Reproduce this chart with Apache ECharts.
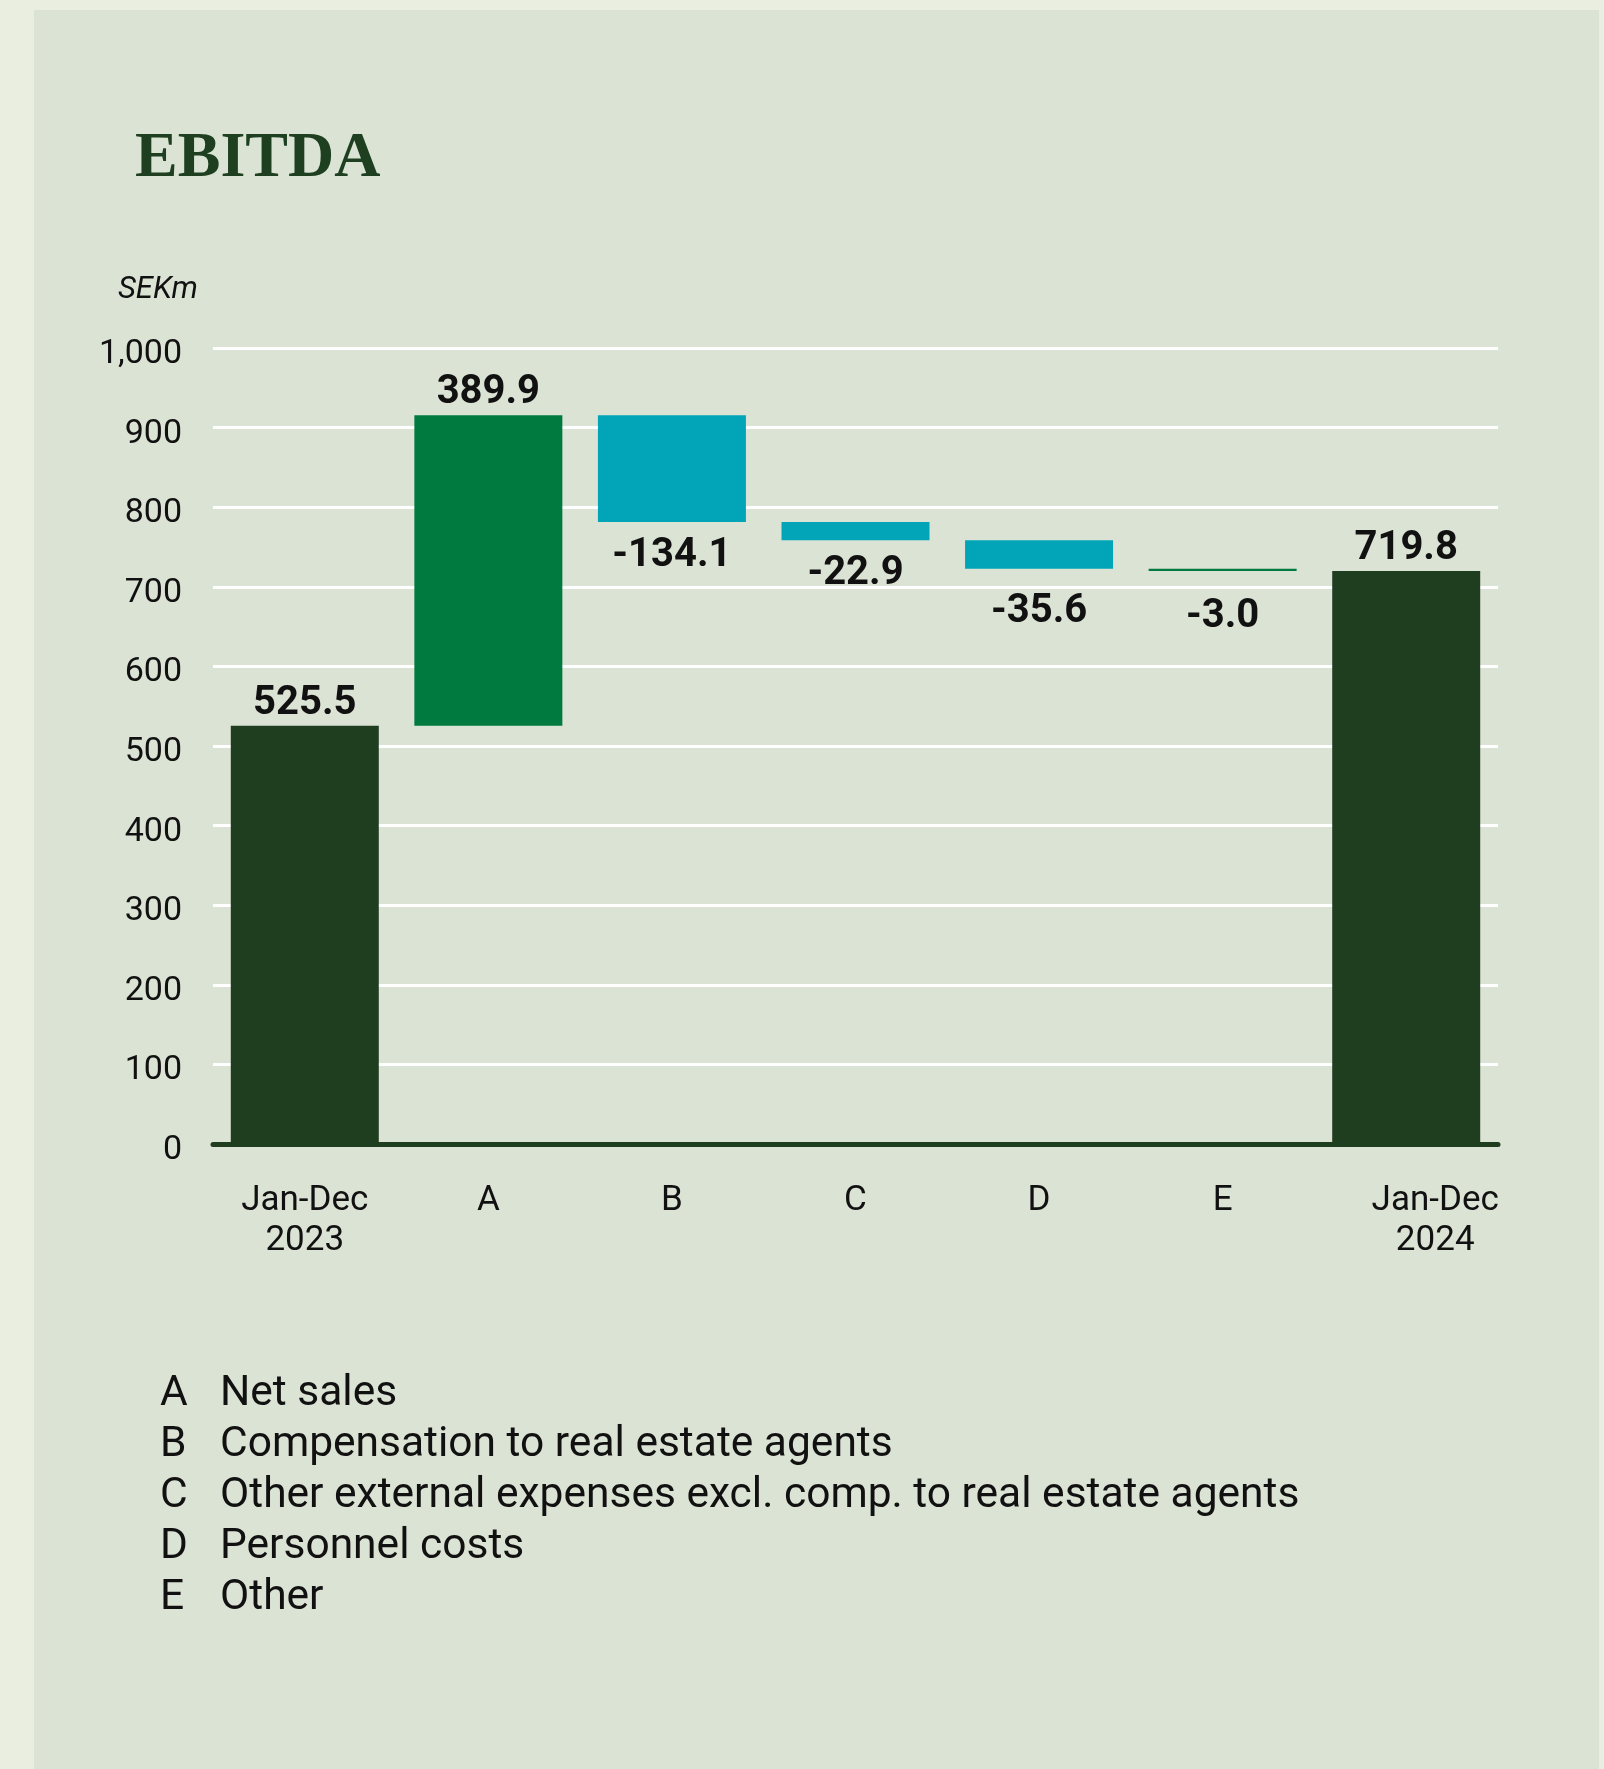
<!DOCTYPE html>
<html>
<head>
<meta charset="utf-8">
<script src="https://cdn.jsdelivr.net/npm/echarts@6/dist/echarts.min.js"></script>
<style>
html,body{margin:0;padding:0;background:#e9eee1;}
#chart{width:1604px;height:1769px;}
</style>
</head>
<body>
<div id="chart"></div>
<script>
// ---- data ----
const categories = ['Jan-Dec\n2023', 'A', 'B', 'C', 'D', 'E', 'Jan-Dec\n2024'];
const startValue = 525.5;
const changes = [389.9, -134.1, -22.9, -35.6, -3.0];
const endValue = 719.8;
const yTicks = [0, 100, 200, 300, 400, 500, 600, 700, 800, 900, 1000];
const legendLetters = ['A', 'B', 'C', 'D', 'E'];
const legendTexts = [
  'Net sales',
  'Compensation to real estate agents',
  'Other external expenses excl. comp. to real estate agents',
  'Personnel costs',
  'Other'
];

// ---- build waterfall ----
const C_TOTAL = '#1f3d1f', C_POS = '#007a3e', C_NEG = '#02a5b7';
const negDistances = [14, 14, 23, 26]; // label offsets for negative bars B..E
const baseData = [0];
const barData = [];
barData.push({value: startValue, itemStyle: {color: C_TOTAL}, label: {position: 'top'}, lbl: startValue});
let running = startValue;
let negIdx = 0;
changes.forEach((c) => {
  const lo = c >= 0 ? running : running + c;
  baseData.push(lo);
  barData.push({
    value: Math.abs(c),
    lbl: c,
    itemStyle: {color: (c >= 0 || Math.abs(c) < 5) ? C_POS : C_NEG},
    label: c >= 0 ? {position: 'top'} : {position: 'bottom', distance: negDistances[negIdx++]}
  });
  running += c;
});
baseData.push(0);
barData.push({value: endValue, itemStyle: {color: C_TOTAL}, label: {position: 'top'}, lbl: endValue});

const fmt = v => (v < 0 ? '-' : '') + Math.abs(v).toFixed(1);

const catData = categories.map((c, i) => i === categories.length - 1
  ? {value: c, textStyle: {padding: [0, 0, 0, 58]}} : c);

const chart = echarts.init(document.getElementById('chart'), null, {renderer: 'canvas'});
const legendGraphics = legendLetters.map((l, i) => ({
  type: 'text', left: 160, top: 1373 + i * 51,
  style: {
    text: '{l|' + l + '}{t|' + legendTexts[i] + '}',
    rich: {
      l: {fontSize: 42.5, fontFamily: 'Roboto', fill: '#111', width: 60},
      t: {fontSize: 42.5, fontFamily: 'Roboto', fill: '#111'}
    }
  }
}));

chart.setOption({
  animation: false,
  backgroundColor: 'transparent',
  grid: {left: 213, right: 106, top: 348, bottom: 625, containLabel: false},
  graphic: [
    {type: 'rect', left: 34, top: 10, z: -10, shape: {width: 1565, height: 1759}, style: {fill: '#dbe3d4'}},
    {type: 'text', left: 135, top: 127, style: {text: 'EBITDA', font: 'bold 64px "Liberation Serif", serif', fill: '#1e4020'}},
    {type: 'text', left: 118, top: 275, style: {text: 'SEKm', font: 'italic 31px Roboto', fill: '#111'}},
    ...legendGraphics
  ],
  xAxis: {
    type: 'category',
    data: catData,
    axisLine: {show: true, lineStyle: {color: '#1f3d1f', width: 5}},
    axisTick: {show: false},
    axisLabel: {fontSize: 35, fontFamily: 'Roboto', color: '#111', lineHeight: 40, margin: 37, interval: 0}
  },
  yAxis: {
    type: 'value', min: 0, max: 1000, interval: 100,
    axisLine: {show: false}, axisTick: {show: false},
    splitLine: {lineStyle: {color: '#ffffff', width: 3}},
    axisLabel: {color: '#111', margin: 31,
      formatter: v => '{a|' + v.toLocaleString('en-US') + '}',
      rich: {a: {fontSize: 34, fontFamily: 'Roboto', color: '#111', padding: [13, 0, 0, 0]}}}
  },
  series: [
    {type: 'bar', stack: 'w', data: baseData, barWidth: 148, itemStyle: {color: 'transparent'}, silent: true},
    {type: 'bar', stack: 'w', data: barData, barWidth: 148,
      label: {show: true, fontSize: 40, fontWeight: 'bold', fontFamily: 'Roboto', color: '#111', distance: 2,
        formatter: p => fmt(p.data.lbl)}}
  ]
});
</script>
</body>
</html>
